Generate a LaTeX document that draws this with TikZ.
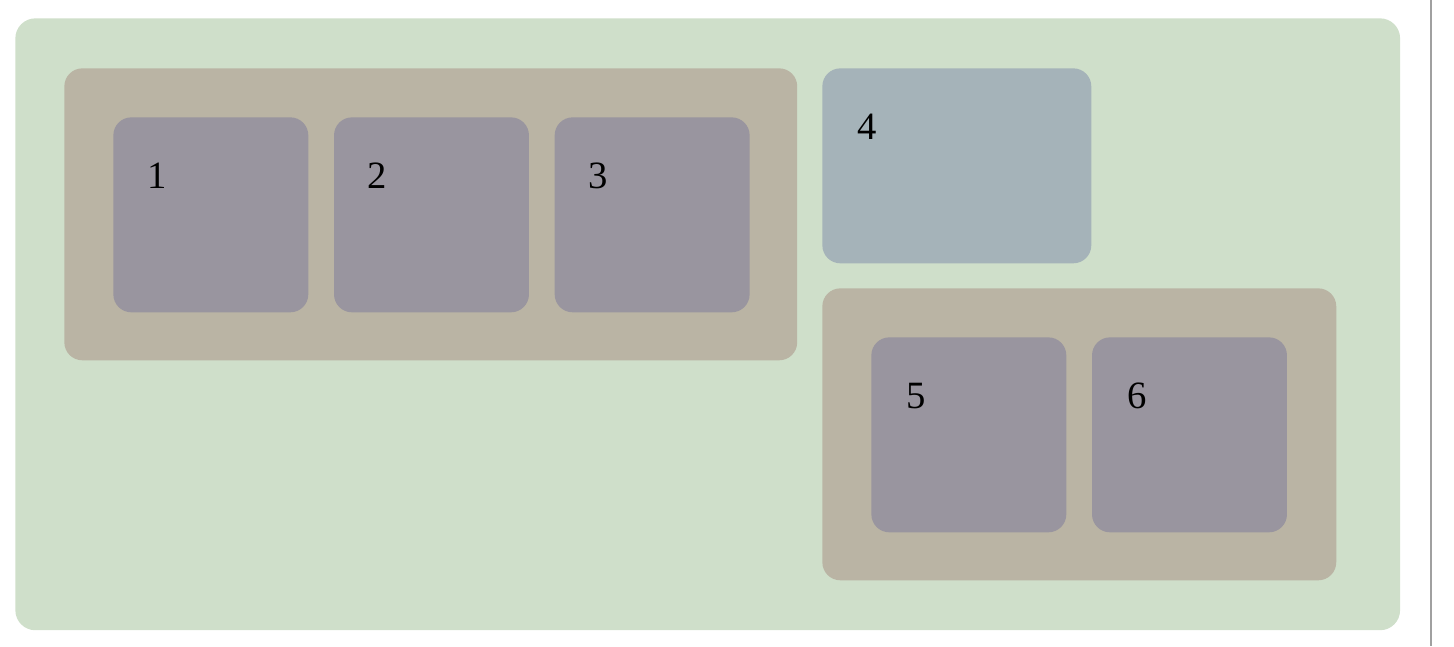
\documentclass[tikz,border=0pt]{standalone}
\usepackage{fontspec}
\setmainfont{Liberation Serif}
\usetikzlibrary{positioning}

\definecolor{pageGreen}{HTML}{CFDFCA}
\definecolor{groupTan}{HTML}{BAB4A4}
\definecolor{itemGray}{HTML}{99959F}
\definecolor{itemBlue}{HTML}{A5B3B9}
\definecolor{edgeGray}{HTML}{A0A0A0}

\begin{document}
\begin{tikzpicture}[
        x=0.02cm, y=-0.02cm,
        node distance = 0.5cm,
        box/.style={rounded corners=0.36cm, inner sep=0pt, anchor=north west},
        item/.style={box, fill=itemGray, minimum width=3.9cm, minimum height=3.9cm},
        group/.style={box, fill=groupTan, minimum height=5.84cm},
        num/.style={font=\fontsize{22}{26}\selectfont, inner sep=0pt}]

        \useasboundingbox (0,0) rectangle (1454,646);

        % FRAME
        \node[box, fill=pageGreen, rounded corners=0.4cm, minimum width=27.7cm, minimum height=12.24cm] (page) at (15,18) {};
        \coordinate (edgeTop) at (1431,0);
        \coordinate (edgeBottom) at (1431,646);
        \draw[edgeGray, line width=1.1pt] (edgeTop)--(edgeBottom);

        % GROUPS
        \node[group, minimum width=14.66cm] (groupA) at (64,68) {};
        \node[group, minimum width=10.28cm] (groupB) at (822,288) {};

        % ITEMS
        \node[item] (item1) at (113,117) {};
        \node[item, right = of item1] (item2) {};
        \node[item, right = of item2] (item3) {};
        \node[box, fill=itemBlue, minimum width=5.38cm, minimum height=3.9cm] (item4) at (822,68) {};
        \node[item] (item5) at (871,337) {};
        \node[item, right = of item5] (item6) {};

        % LABELS
        \node[num] (num1) at ([shift={(44,59)}]item1.north west) {1};
        \node[num] (num2) at ([shift={(44,59)}]item2.north west) {2};
        \node[num] (num3) at ([shift={(44,59)}]item3.north west) {3};
        \node[num] (num4) at ([shift={(45,59)}]item4.north west) {4};
        \node[num] (num5) at ([shift={(45,59)}]item5.north west) {5};
        \node[num] (num6) at ([shift={(45,59)}]item6.north west) {6};
\end{tikzpicture}
\end{document}
